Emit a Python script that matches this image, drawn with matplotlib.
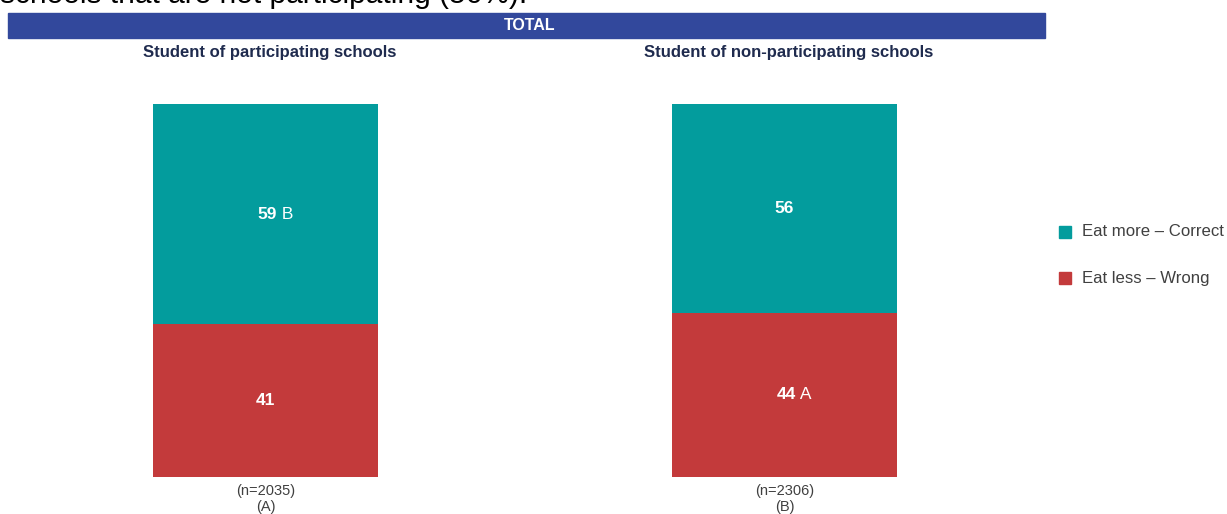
import matplotlib.pyplot as plt
from matplotlib.patches import Rectangle

plt.rcParams['font.family'] = ['Liberation Sans', 'DejaVu Sans']

groups = ['Student of participating schools', 'Student of non-participating schools']
n_labels = ['(n=2035)\n(A)', '(n=2306)\n(B)']
correct = [59, 56]
wrong = [41, 44]
correct_sig = ['B', '']
wrong_sig = ['', 'A']
series = ['Eat more – Correct', 'Eat less – Wrong']

TEAL = '#039c9d'
RED = '#c33a3b'
NAVY = '#1f2b4e'
GREY = '#404040'

W, H = 1227, 514
fig = plt.figure(figsize=(W / 100, H / 100), dpi=100)


def px(x, y):
    # pixel from top-left -> figure fraction
    return x / W, 1 - y / H


# sentence cut off at the top edge
fig.text(*px(0, 3), 'schools that are not participating (56%).', fontsize=21.5,
         color='black', va='baseline', ha='left')

# TOTAL banner
fig.patches.append(Rectangle(px(8, 38), (1045 - 8) / W, 25 / H,
                             transform=fig.transFigure, color='#32489c', zorder=0))
fig.text(*px(530, 26), 'TOTAL', fontsize=11.5, fontweight='bold', color='white',
         ha='center', va='center')

bar_lefts = [153, 672]
bar_w, bar_top, bar_bot = 225, 104, 477
title_x = [270, 789]

for i, g in enumerate(groups):
    l, b = px(bar_lefts[i], bar_bot)
    ax = fig.add_axes([l, b, bar_w / W, (bar_bot - bar_top) / H])
    ax.bar(0, wrong[i], width=1, color=RED)
    ax.bar(0, correct[i], bottom=wrong[i], width=1, color=TEAL)
    ax.set_xlim(-0.5, 0.5)
    ax.set_ylim(0, 100)
    ax.axis('off')

    for val, base, sig in [(wrong[i], 0, wrong_sig[i]), (correct[i], wrong[i], correct_sig[i])]:
        y = base + val / 2
        if sig:
            t = ax.text(0.05, y, str(val), fontsize=12.5, fontweight='bold', color='white',
                        ha='right', va='center')
            ax.annotate(' ' + sig, xycoords=t, xy=(1, 0.5), fontsize=12.5, color='white',
                        ha='left', va='center')
        else:
            ax.text(0, y, str(val), fontsize=12.5, fontweight='bold', color='white',
                    ha='center', va='center')

    cx = bar_lefts[i] + bar_w / 2
    fig.text(*px(title_x[i], 52), g, fontsize=12, fontweight='bold', color=NAVY,
             ha='center', va='center')
    fig.text(*px(cx, 499), n_labels[i], fontsize=10.5, color=GREY,
             ha='center', va='center', linespacing=1.1)

# legend
for name, col, y in [(series[0], TEAL, 232), (series[1], RED, 278)]:
    fig.patches.append(Rectangle(px(1059, y + 6), 12 / W, 12 / H,
                                 transform=fig.transFigure, color=col))
    fig.text(*px(1082, y), name, fontsize=12.1, color=GREY, ha='left', va='center')

fig.savefig('out.png', dpi=100)
